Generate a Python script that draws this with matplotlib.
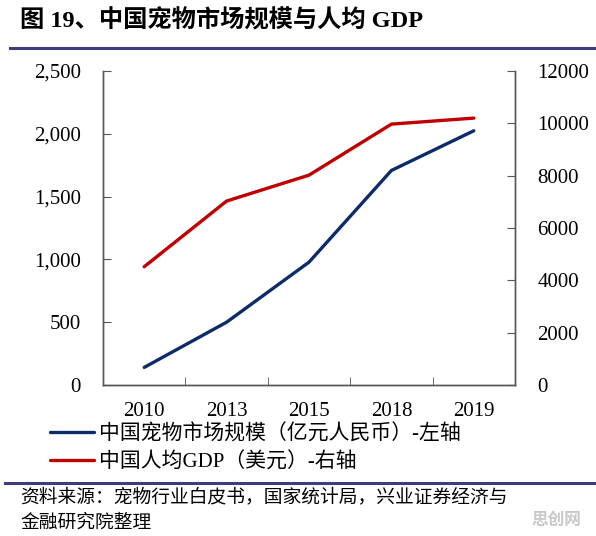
import matplotlib.pyplot as plt
import matplotlib.lines as mlines
from matplotlib.ticker import FuncFormatter, FixedLocator

plt.rcParams['font.family'] = ['Liberation Serif', 'Noto Sans CJK SC', 'DejaVu Sans']

years = ['2010', '2013', '2015', '2018', '2019']
pet_market = [140, 500, 978, 1708, 2024]        # 亿元人民币, left axis
gdp_per_capita = [4520, 7030, 8020, 9970, 10200]  # 美元, right axis

navy = '#0d2a6b'
red = '#c00000'
rule = '#3d3d7d'
spine_c = '#555555'

fig = plt.figure(figsize=(5.96, 5.36), dpi=100)
W, H = 596, 536

def fx(px):
    return px / W

def fy(py):
    return 1 - py / H

ax = fig.add_axes([fx(103), fy(385), fx(515) - fx(103), fy(71) - fy(385)])
ax2 = ax.twinx()

x = list(range(len(years)))
l1, = ax.plot(x, pet_market, color=navy, lw=2.4, solid_capstyle='round')
l2, = ax2.plot(x, gdp_per_capita, color=red, lw=2.4, solid_capstyle='round')

ax.set_xlim(-0.5, len(years) - 0.5)
ax.set_ylim(0, 2500)
ax2.set_ylim(0, 12000)
ax.set_yticks(range(0, 2501, 500))
ax.yaxis.set_major_formatter(FuncFormatter(lambda v, p: f'{int(v):,}'))
ax2.set_yticks(range(0, 12001, 2000))

ax.set_xticks(x)
ax.set_xticklabels(years)
ax.xaxis.set_minor_locator(FixedLocator([i + 0.5 for i in x[:-1]]))
ax.tick_params(axis='x', which='major', length=0, pad=12, labelsize=15)
ax.tick_params(axis='x', which='minor', direction='in', length=6, color=spine_c)
ax.tick_params(axis='y', direction='in', length=6, color=spine_c, labelsize=15, pad=16)
ax2.tick_params(axis='y', direction='in', length=6, color=spine_c, labelsize=15, pad=16)

for a in (ax, ax2):
    a.spines['top'].set_visible(False)
    for s in ('left', 'right', 'bottom'):
        a.spines[s].set_color(spine_c)
        a.spines[s].set_linewidth(1.0)

# title and rules
fig.text(fx(20), fy(21), '图 19、中国宠物市场规模与人均 GDP', fontsize=17.5,
         fontweight='bold', va='center', ha='left')
fig.add_artist(mlines.Line2D([fx(10), 1], [fy(48), fy(48)], color=rule, lw=2.2))
fig.add_artist(mlines.Line2D([fx(5), 1], [fy(483), fy(483)], color=rule, lw=2.2))

leg = fig.legend([l1, l2],
                 ['中国宠物市场规模（亿元人民币）-左轴', '中国人均GDP（美元）-右轴'],
                 loc='upper left', bbox_to_anchor=(fx(50), fy(424)),
                 frameon=False, fontsize=15, borderpad=0, borderaxespad=0,
                 handlelength=2.1, handletextpad=0.25, labelspacing=0.4)

fig.text(fx(20), fy(497), '资料来源：宠物行业白皮书，国家统计局，兴业证券经济与',
         fontsize=13.5, va='center', ha='left')
fig.text(fx(20), fy(523), '金融研究院整理', fontsize=13.5, va='center', ha='left')
fig.text(fx(556), fy(521), '思创网', fontsize=12, fontweight='bold',
         color='#c8c8c8', va='center', ha='center')

fig.savefig('out.png', dpi=100)
